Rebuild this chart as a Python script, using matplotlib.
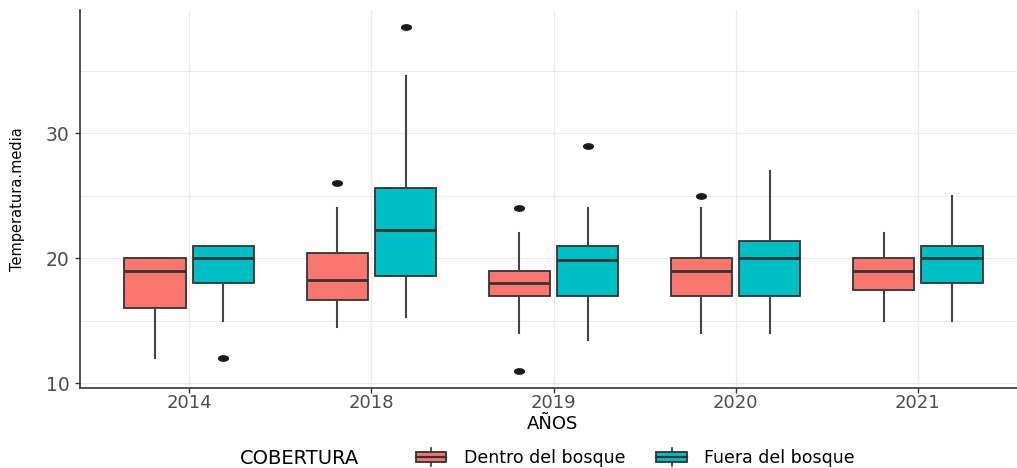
import matplotlib
matplotlib.use("Agg")
import numpy as np
import matplotlib.pyplot as plt
from matplotlib.legend_handler import HandlerBase
from matplotlib.patches import Rectangle
from matplotlib.lines import Line2D
from matplotlib.ticker import MultipleLocator

# Data
years = ["2014", "2018", "2019", "2020", "2021"]
groups = ["Dentro del bosque", "Fuera del bosque"]

dentro_whislo = [12, 14.5, 14, 14, 15]
dentro_q1 = [16, 16.7, 17, 17, 17.5]
dentro_med = [19, 18.3, 18, 19, 19]
dentro_q3 = [20, 20.4, 19, 20, 20]
dentro_whishi = [20, 24, 22, 24, 22]
dentro_fliers = [[], [26], [24, 11], [25], []]

fuera_whislo = [15, 15.3, 13.5, 14, 15]
fuera_q1 = [18, 18.6, 17, 17, 18]
fuera_med = [20, 22.25, 19.85, 20, 20]
fuera_q3 = [21, 25.6, 21, 21.4, 21]
fuera_whishi = [21, 34.6, 24, 27, 25]
fuera_fliers = [[12], [38.5], [29], [], []]

COLORS = ["#F8766D", "#00BFC4"]
EDGE = "#333333"
GRID = "#EBEBEB"
TXT = "#4D4D4D"

# squashed dot, as in the (horizontally stretched) reference
t = np.linspace(0, 2 * np.pi, 30)
DOT = np.column_stack([np.cos(t), 0.55 * np.sin(t)])


def make_stats(lo, q1, med, q3, hi, fl):
    return [dict(whislo=a, q1=b, med=c, q3=d, whishi=e, fliers=f)
            for a, b, c, d, e, f in zip(lo, q1, med, q3, hi, fl)]


class BoxKeyHandler(HandlerBase):
    def create_artists(self, legend, orig_handle, xdescent, ydescent,
                       width, height, fontsize, trans):
        x0, y0 = -xdescent, -ydescent
        cx = x0 + width / 2
        whisk = Line2D([cx, cx], [y0 - 0.3 * height, y0 + 1.3 * height],
                       color=EDGE, lw=1.2, transform=trans)
        box = Rectangle((x0, y0 + 0.05 * height), width, 0.9 * height,
                        facecolor=orig_handle.get_facecolor(), edgecolor=EDGE,
                        lw=1.3, transform=trans)
        med = Line2D([x0, x0 + width], [y0 + height / 2] * 2,
                     color=EDGE, lw=1.6, transform=trans)
        return [whisk, box, med]


fig = plt.figure(figsize=(10.17, 4.68), dpi=100)
ax = fig.add_axes([80 / 1017, 80 / 468, 937 / 1017, 378 / 468])

pos = list(range(1, len(years) + 1))
offset = 0.1875
bw = 0.3375
series = [
    make_stats(dentro_whislo, dentro_q1, dentro_med, dentro_q3, dentro_whishi, dentro_fliers),
    make_stats(fuera_whislo, fuera_q1, fuera_med, fuera_q3, fuera_whishi, fuera_fliers),
]
for k, stats in enumerate(series):
    p = [x + (k * 2 - 1) * offset for x in pos]
    ax.bxp(stats, positions=p, widths=bw, patch_artist=True, showcaps=False,
           boxprops=dict(facecolor=COLORS[k], edgecolor=EDGE, lw=1.3),
           medianprops=dict(color=EDGE, lw=2.0),
           whiskerprops=dict(color="#444444", lw=1.5),
           flierprops=dict(marker=DOT, markerfacecolor="#1A1A1A",
                           markeredgecolor="#1A1A1A", markersize=7),
           zorder=3)

ax.set_xlim(0.4, 5.6 - 10 / 182)
ax.set_ylim(9.625, 39.875)
ax.set_xticks(pos)
ax.set_xticklabels(years)
ax.yaxis.set_major_locator(MultipleLocator(10))
ax.yaxis.set_minor_locator(MultipleLocator(5))
ax.grid(True, which="major", color=GRID, lw=0.9, zorder=0)
ax.grid(True, which="minor", axis="y", color=GRID, lw=0.7, zorder=0)
ax.set_axisbelow(True)
ax.tick_params(axis="y", which="minor", length=0)
ax.tick_params(which="major", length=3.5, color=EDGE, width=1.0,
               labelsize=13.5, labelcolor=TXT)
ax.tick_params(axis="x", pad=1.0, labelsize=13)
ax.tick_params(axis="y", pad=4)
for s in ["top", "right"]:
    ax.spines[s].set_visible(False)
for s in ["left", "bottom"]:
    ax.spines[s].set_color(EDGE)
    ax.spines[s].set_linewidth(1.2)

ax.set_xlabel("AÑOS", fontsize=13, color="black")
ax.xaxis.set_label_coords((553 - 80) / 937, -(424 - 388) / 378)
ax.xaxis.label.set_va("center")
ax.set_ylabel("Temperatura.media", fontsize=10.5, color="black")
ax.yaxis.set_label_coords((18 - 80) / 937, 0.5)
ax.yaxis.label.set_va("center")

# Legend at the bottom, title on the left
fig.text(240 / 1017, 1 - 458 / 468, "COBERTURA", fontsize=14, va="center", ha="left")
handles = [Rectangle((0, 0), 1, 1, facecolor=c) for c in COLORS]
fig.legend(handles, groups, handler_map={Rectangle: BoxKeyHandler()},
           loc="center left", bbox_to_anchor=(416 / 1017, 1 - 458 / 468),
           ncol=2, frameon=False, fontsize=12.5, borderpad=0, borderaxespad=0,
           handlelength=1.75, handleheight=0.65, handletextpad=1.0,
           columnspacing=1.8)

fig.savefig("out.png", dpi=100)
